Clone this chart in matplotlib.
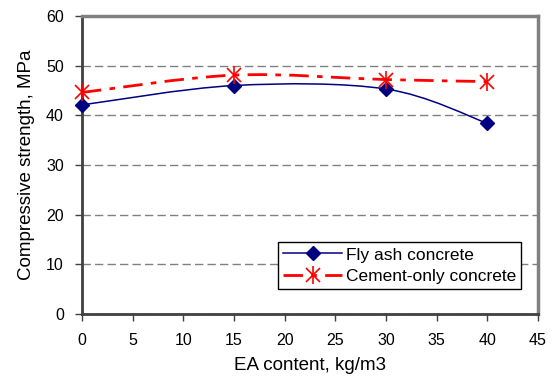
import numpy as np
import matplotlib
matplotlib.use("Agg")
import matplotlib.pyplot as plt
from matplotlib.path import Path
from matplotlib.patches import PathPatch
from matplotlib.lines import Line2D
from matplotlib.legend_handler import HandlerTuple

plt.rcParams['font.family'] = ['Liberation Sans', 'DejaVu Sans']

# EA content (kg/m3) and compressive strength (MPa)
ea_content = [0, 15, 30, 40]
fly_ash = [42.1, 46.0, 45.3, 38.4]
cement_only = [44.6, 48.1, 47.2, 46.8]

x_ticks = [0, 5, 10, 15, 20, 25, 30, 35, 40, 45]
y_ticks = [0, 10, 20, 30, 40, 50, 60]

FLY_COLOR = '#000080'
CEM_COLOR = '#ff0000'
CEM_DASH = (0, (7, 3, 2, 3))


def smooth_path(xs, ys):
    """Catmull-Rom style Bezier path through the points (spreadsheet smoothing)."""
    pts = np.column_stack([xs, ys]).astype(float)
    n = len(pts)
    verts = [pts[0]]
    codes = [Path.MOVETO]
    for i in range(n - 1):
        p0 = pts[i - 1] if i > 0 else pts[i]
        p1 = pts[i]
        p2 = pts[i + 1]
        p3 = pts[i + 2] if i + 2 < n else pts[i + 1]
        c1 = p1 + (p2 - p0) / 6.0
        c2 = p2 - (p3 - p1) / 6.0
        verts += [c1, c2, p2]
        codes += [Path.CURVE4] * 3
    return Path(verts, codes)


fig = plt.figure(figsize=(5.55, 3.8), dpi=100)
ax = fig.add_axes([0.1477, 0.1737, 0.8217, 0.7842])

ax.set_xlim(0, 45)
ax.set_ylim(0, 60)
ax.set_xticks(x_ticks)
ax.set_yticks(y_ticks)

ax.grid(axis='y', color='#808080', linestyle=(0, (6, 3)), linewidth=1.0)
ax.set_axisbelow(True)

# smoothed series lines
ax.add_patch(PathPatch(smooth_path(ea_content, fly_ash), facecolor='none',
                       edgecolor=FLY_COLOR, linewidth=1.1, zorder=3))
ax.add_patch(PathPatch(smooth_path(ea_content, cement_only), facecolor='none',
                       edgecolor=CEM_COLOR, linewidth=2.0,
                       linestyle=CEM_DASH, zorder=3))

# markers
ax.plot(ea_content, fly_ash, linestyle='none', marker='D', markersize=7.5,
        color=FLY_COLOR, zorder=4, clip_on=False)
ax.plot(ea_content, cement_only, linestyle='none', marker='x', markersize=10,
        markeredgewidth=1.2, color=CEM_COLOR, zorder=4, clip_on=False)
ax.plot(ea_content, cement_only, linestyle='none', marker='|', markersize=13,
        markeredgewidth=1.2, color=CEM_COLOR, zorder=4, clip_on=False)

# spines
for side in ('left', 'bottom'):
    ax.spines[side].set_color('#404040')
    ax.spines[side].set_linewidth(2.0)
for side in ('top', 'right'):
    ax.spines[side].set_color('#808080')
    ax.spines[side].set_linewidth(2.5)

ax.tick_params(axis='both', direction='out', length=5, width=1.0,
               color='#404040', labelsize=11.5, labelcolor='black')
ax.tick_params(axis='x', pad=9)
ax.tick_params(axis='y', pad=8)

ax.set_xlabel('EA content, kg/m3', fontsize=13.5, labelpad=6)
ax.set_ylabel('Compressive strength, MPa', fontsize=13.5, labelpad=8)

# legend
fly_handle = Line2D([], [], color=FLY_COLOR, linewidth=1.1, marker='D',
                    markersize=7.5)
cem_line = Line2D([], [], color=CEM_COLOR, linewidth=2.0, linestyle=CEM_DASH)
cem_x = Line2D([], [], color=CEM_COLOR, linestyle='none', marker='x',
               markersize=10, markeredgewidth=1.2)
cem_bar = Line2D([], [], color=CEM_COLOR, linestyle='none', marker='|',
                 markersize=13, markeredgewidth=1.2)
leg = ax.legend([fly_handle, (cem_line, cem_x, cem_bar)],
                ['Fly ash concrete', 'Cement-only concrete'],
                handler_map={tuple: HandlerTuple(ndivide=1, pad=0)},
                loc='lower right', bbox_to_anchor=(0.963, 0.084),
                fontsize=12.5, frameon=True, fancybox=False, framealpha=1,
                edgecolor='black', handlelength=3.4, handletextpad=0.2,
                borderpad=0.3, labelspacing=0.35, borderaxespad=0)
leg.get_frame().set_linewidth(1.0)

fig.savefig('out.png', dpi=100)
